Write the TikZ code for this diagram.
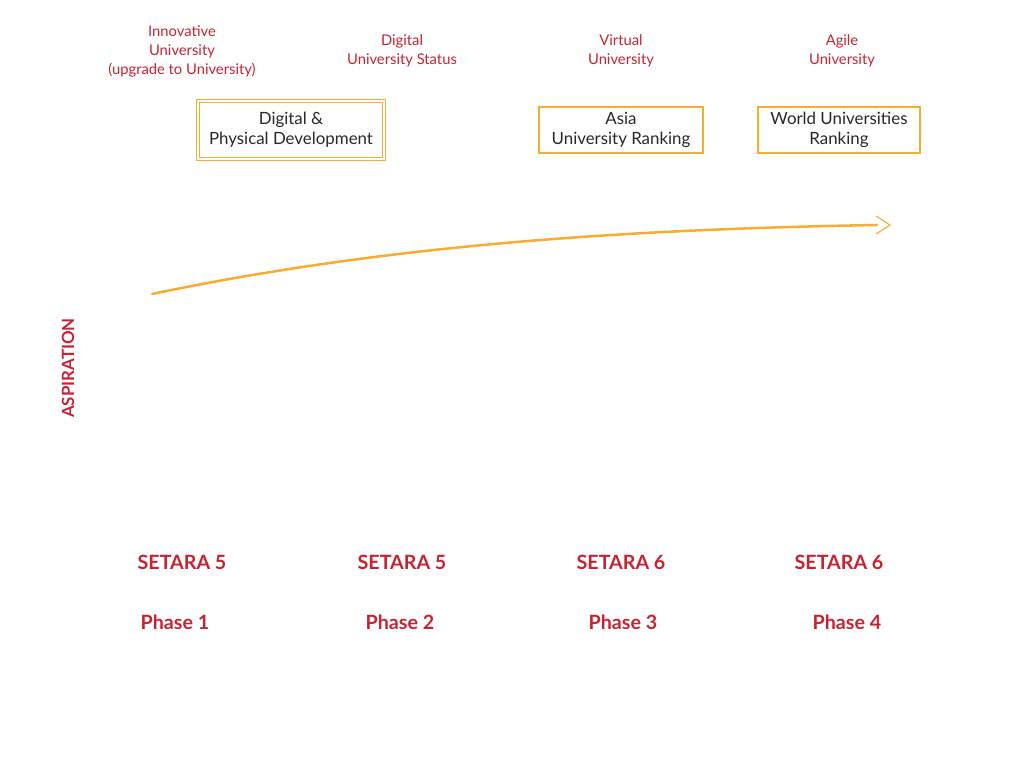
\documentclass[tikz,border=0pt]{standalone}
\usepackage{fontspec}
\setmainfont{Lato}
\usepackage{tikz}
\usetikzlibrary{arrows.meta,positioning}
\usepackage{xcolor}
\definecolor{aspred}{RGB}{200,35,50}
\definecolor{rankorange}{RGB}{247,172,50}
\definecolor{boxtext}{RGB}{40,40,40}

\begin{document}
\begin{tikzpicture}[
  x=0.025cm, y=-0.025cm, >=Stealth,
  goallbl/.style={align=center,text=aspred,font=\fontsize{10.5}{13.5}\selectfont,inner sep=1pt},
  rankb/.style={rectangle,draw=rankorange,line width=1.6pt,align=center,text=boxtext,
    font=\fontsize{12}{14}\selectfont,inner sep=0pt},
  dblb/.style={rankb,line width=0.7pt,double=white,double distance=1.4pt},
  setaralbl/.style={text=aspred,font=\bfseries\fontsize{14}{16}\selectfont},
  phaselbl/.style={text=aspred,font=\bfseries\fontsize{14}{16}\selectfont},
  trend/.style={rankorange,line width=1.8pt,line cap=round},
]
\useasboundingbox (0,0) rectangle (1024,768);

% aspirations per phase
\node[goallbl] (innov) at (182,51) {Innovative\\University\\(upgrade to University)};
\node[goallbl] (digital) at (402,51) {Digital\\University Status};
\node[goallbl] (virtual) at (621,51) {Virtual\\University};
\node[goallbl] (agile) at (842,51) {Agile\\University};

% milestones
\node[dblb,minimum width=4.65cm,minimum height=1.43cm] (devbox) at (291,130) {Digital \&\\Physical Development};
\node[rankb,minimum width=4.1cm,minimum height=1.15cm] (asiabox) at (621,130) {Asia\\University Ranking};
\node[rankb,minimum width=4.05cm,minimum height=1.15cm] (worldbox) at (839,130) {World Universities\\Ranking};

% trend
\coordinate (trendstart) at (152,294);
\coordinate (trendend) at (890,225);
\draw[trend] (trendstart) .. controls (400,242) and (650,229) .. (877,225);
\draw[rankorange,line width=0.8pt] (876,216) -- (trendend) -- (876,234);

\node[text=aspred,font=\bfseries\fontsize{12}{14}\selectfont,rotate=90] (asp) at (68,368) {ASPIRATION};

% levels
\node[setaralbl] (set1) at (182,562) {SETARA 5};
\node[setaralbl] (set2) at (402,562) {SETARA 5};
\node[setaralbl] (set3) at (621,562) {SETARA 6};
\node[setaralbl] (set4) at (839,562) {SETARA 6};

\node[phaselbl] (ph1) at (175,622) {Phase 1};
\node[phaselbl] (ph2) at (400,622) {Phase 2};
\node[phaselbl] (ph3) at (623,622) {Phase 3};
\node[phaselbl] (ph4) at (847,622) {Phase 4};
\end{tikzpicture}
\end{document}
